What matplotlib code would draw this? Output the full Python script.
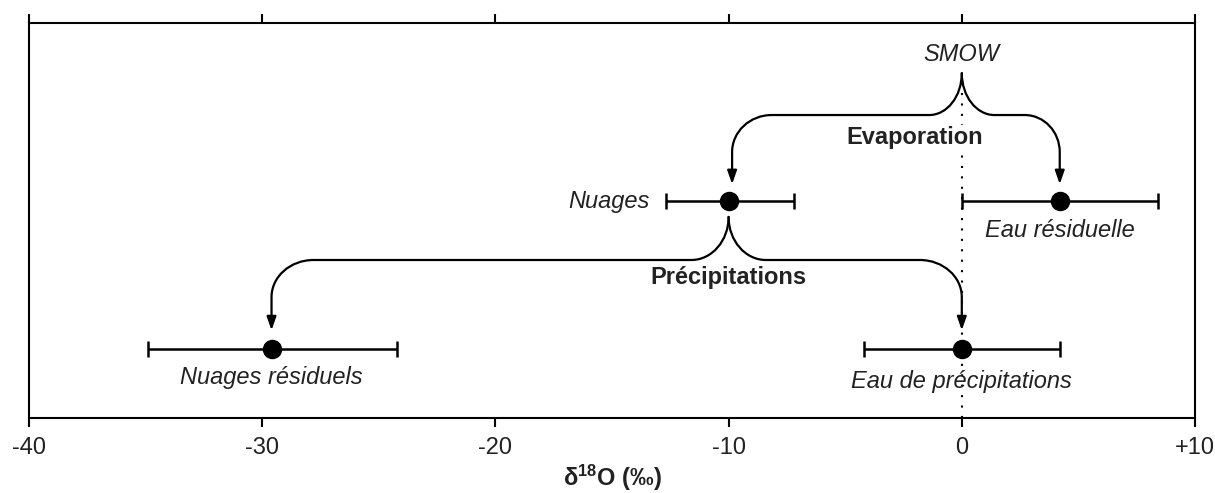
import matplotlib
matplotlib.use("Agg")
import matplotlib.pyplot as plt
from matplotlib.path import Path
from matplotlib.patches import FancyArrowPatch
from matplotlib.ticker import FixedLocator, FuncFormatter

plt.rcParams['font.family'] = ['Liberation Sans', 'DejaVu Sans']
plt.rcParams['mathtext.fontset'] = 'custom'
plt.rcParams['mathtext.rm'] = 'Liberation Sans'
plt.rcParams['mathtext.bf'] = 'Liberation Sans:bold'
plt.rcParams['mathtext.it'] = 'Liberation Sans:italic'

# ---------------- data ----------------
categories = ["Nuages", "Eau résiduelle", "Nuages résiduels", "Eau de précipitations"]
x_vals = [-10.0, 4.2, -29.6, 0.0]
x_lo = [-12.7, 0.0, -34.9, -4.2]
x_hi = [-7.2, 8.4, -24.2, 4.2]
row_y = [0.549, 0.549, 0.174, 0.174]
tick_vals = [-40, -30, -20, -10, 0, 10]
tick_labels = ["-40", "-30", "-20", "-10", "0", "+10"]
smow_x = 0.0

TXT = '#222222'
FS = 17

fig = plt.figure(figsize=(12.15, 4.93), dpi=100)
ax = fig.add_axes([29/1215, 75/493, (1195-29)/1215, (418-23)/493])
ax.set_xlim(-40, 10)
ax.set_ylim(0, 1)

# error bars + points
for xv, lo, hi, yv in zip(x_vals, x_lo, x_hi, row_y):
    ax.errorbar([xv], [yv], xerr=[[xv - lo], [hi - xv]], fmt='o', color='black',
                ecolor='black', elinewidth=1.8, capsize=5.8, capthick=1.8,
                markersize=13, zorder=4)

# SMOW dotted line
ax.plot([smow_x, smow_x], [0, 0.873], linestyle=(0, (1, 4)), color='black', lw=1.5, zorder=2)


def brace_branch(x0, ytip, yh, crx, x1, kx, ky, yend):
    s = 1 if x1 > x0 else -1
    k = 0.5523
    ry = ytip - yh
    verts = [
        (x0, ytip),
        (x0, ytip - k * ry), (x0 + s * crx * (1 - k), yh), (x0 + s * crx, yh),
        (x1 - s * kx, yh),
        (x1 - s * kx * (1 - k), yh), (x1, yh - ky * (1 - k)), (x1, yh - ky),
        (x1, yend),
    ]
    codes = [Path.MOVETO,
             Path.CURVE4, Path.CURVE4, Path.CURVE4,
             Path.LINETO,
             Path.CURVE4, Path.CURVE4, Path.CURVE4,
             Path.LINETO]
    p = FancyArrowPatch(path=Path(verts, codes),
                        arrowstyle='-|>,head_length=0.8,head_width=0.28',
                        mutation_scale=10, lw=1.6, color='black', zorder=3)
    ax.add_patch(p)


# Evaporation brace: SMOW -> Nuages / Eau résiduelle
brace_branch(smow_x, 0.873, 0.767, 1.4, x_vals[0] + 0.15, 1.7, 0.094, 0.592)
brace_branch(smow_x, 0.873, 0.767, 1.4, x_vals[1], 1.5, 0.094, 0.592)
# Précipitations brace: Nuages -> Nuages résiduels / Eau de précipitations
brace_branch(x_vals[0], 0.509, 0.400, 1.6, x_vals[2], 1.8, 0.094, 0.222)
brace_branch(x_vals[0], 0.509, 0.400, 1.6, x_vals[3], 1.8, 0.094, 0.222)

# labels
ax.text(smow_x, 0.919, "SMOW", ha='center', va='center', fontsize=FS, style='italic', color=TXT)
ax.text(-2.0, 0.71, "Evaporation", ha='center', va='center', fontsize=FS, weight='bold', color=TXT,
        bbox=dict(facecolor='white', edgecolor='none', pad=0.5), zorder=3)
ax.text(x_vals[0], 0.355, "Précipitations", ha='center', va='center', fontsize=FS, weight='bold', color=TXT)
ax.text(-13.4, row_y[0], categories[0], ha='right', va='center', fontsize=FS, style='italic', color=TXT)
ax.text(x_vals[1], 0.474, categories[1], ha='center', va='center', fontsize=FS, style='italic', color=TXT)
ax.text(x_vals[2], 0.102, categories[2], ha='center', va='center', fontsize=FS, style='italic', color=TXT)
ax.text(x_vals[3], 0.092, categories[3], ha='center', va='center', fontsize=FS, style='italic', color=TXT)

# axes styling
for sp in ax.spines.values():
    sp.set_linewidth(1.5)
ax.xaxis.set_major_locator(FixedLocator(tick_vals))
ax.xaxis.set_major_formatter(FuncFormatter(lambda v, pos: tick_labels[tick_vals.index(int(round(v)))]))
ax.tick_params(axis='x', which='major', direction='out', length=6.5, width=1.5,
               top=True, bottom=True, labeltop=False, labelsize=FS, labelcolor=TXT, pad=7)
ax.set_yticks([])
ax.set_xlabel(r"δ$^{\mathbf{18}}$O (‰)", fontsize=FS, weight='bold', color=TXT, labelpad=3)

fig.savefig("out.png", dpi=100)
